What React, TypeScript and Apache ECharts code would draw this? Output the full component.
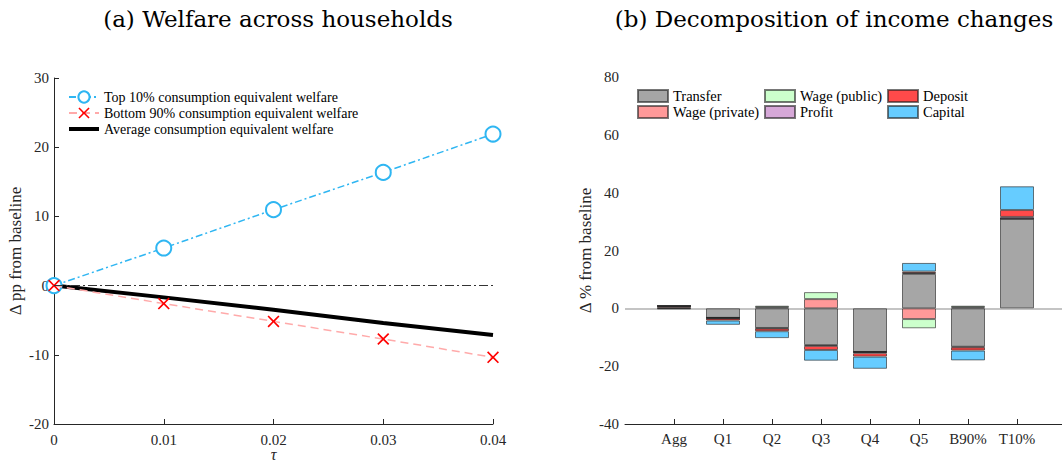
import React, { useEffect, useRef } from 'react';
import * as echarts from 'echarts';

// ---------- Panel (a) data ----------
const tau = [0, 0.01, 0.02, 0.03, 0.04];
const top10 = [0, 5.43, 10.97, 16.36, 21.9];
const bottom90 = [0, -2.6, -5.17, -7.72, -10.37];
const average = [0, -1.7, -3.48, -5.4, -7.14];
const welfareTicks = { xMin: 0, xMax: 0.04, xStep: 0.01, yMin: -20, yMax: 30, yStep: 10 };

// ---------- Panel (b) data ----------
const categories = ['Agg', 'Q1', 'Q2', 'Q3', 'Q4', 'Q5', 'B90%', 'T10%'];
const transfer = [0.2, -3.3, -6.8, -12.7, -15.1, 11.9, -13.3, 31.0];
const wagePrivate = [0.5, 0, 0.4, 3.2, 0, -3.7, 0.4, 0];
const wagePublic = [0.1, 0, 0.5, 2.4, 0, -3.2, 0.5, 0];
const profit = [0.05, -0.2, -0.2, -0.3, -0.4, 0.3, -0.2, 0.6];
const deposit = [0.05, -0.7, -0.9, -1.4, -1.2, 0.5, -1.1, 2.4];
const capital = [-0.25, -1.5, -2.4, -3.7, -4.2, 3.0, -3.4, 8.2];
const incomeTicks = { yMin: -40, yMax: 80, yStep: 20 };

const FONT = '"Liberation Serif", "Times New Roman", serif';
const TITLE_FONT = '"DejaVu Serif", "Liberation Serif", serif';
const AX = '#262626';

export default function App() {
  const ref = useRef<HTMLDivElement>(null);

  useEffect(() => {
    document.body.style.margin = '0';
    const chart = echarts.init(ref.current!, null, { renderer: 'svg' });

    // category axis padded with an empty slot at each end (MATLAB-like x limits)
    const paddedCats = ['', ...categories, ''];
    const pad = (arr: number[]) => [null, ...arr, null];

    const barBorder = { borderColor: 'rgba(30,30,30,0.6)', borderWidth: 1 };
    const barSeries = (name: string, data: number[], color: string, extra: any = {}) => ({
      name,
      type: 'bar',
      xAxisIndex: 1,
      yAxisIndex: 1,
      stack: 'income',
      stackStrategy: 'samesign',
      barWidth: 34,
      z: 2,
      itemStyle: { color, ...barBorder },
      data: pad(data),
      ...extra,
    });

    const axisCommon = {
      axisLine: { onZero: false, lineStyle: { color: AX, width: 1 } },
      axisTick: { inside: true, length: 5, lineStyle: { color: AX } },
      splitLine: { show: false },
    };

    const option: any = {
      animation: false,
      backgroundColor: '#ffffff',
      textStyle: { fontFamily: FONT },
      title: [
        {
          text: '(a) Welfare across households',
          left: 273,
          top: 2,
          textAlign: 'center',
          textStyle: { fontFamily: TITLE_FONT, fontSize: 23, fontWeight: 'normal', color: '#000' },
        },
        {
          text: '(b) Decomposition of income changes',
          left: 829,
          top: 2,
          textAlign: 'center',
          textStyle: { fontFamily: TITLE_FONT, fontSize: 23, fontWeight: 'normal', color: '#000' },
        },
      ],
      grid: [
        { left: 54, top: 78, width: 439, height: 346, containLabel: false, outerBoundsMode: 'none' },
        { left: 625, top: 77, width: 441, height: 347, containLabel: false, outerBoundsMode: 'none' },
      ],
      legend: [
        {
          orient: 'vertical',
          left: 63,
          top: 85,
          itemWidth: 30,
          itemHeight: 14,
          itemGap: 2,
          textStyle: { fontFamily: FONT, fontSize: 14, color: '#000' },
          data: [
            'Top 10% consumption equivalent welfare',
            'Bottom 90% consumption equivalent welfare',
            { name: 'Average consumption equivalent welfare', icon: 'path://M0,0 L30,0 L30,4 L0,4 Z' },
          ],
        },
        ...[
          { left: 632, data: ['Transfer', 'Wage (private)'] },
          { left: 759, data: ['Wage (public)', 'Profit'] },
          { left: 882, data: ['Deposit', 'Capital'] },
        ].map((c) => ({
          orient: 'vertical',
          left: c.left,
          top: 83,
          itemWidth: 30,
          itemHeight: 12,
          itemGap: 0,
          icon: 'rect',
          textStyle: { fontFamily: FONT, fontSize: 14.5, color: '#000', lineHeight: 16 },
          data: c.data,
        })),
      ],
      xAxis: [
        {
          type: 'value',
          gridIndex: 0,
          min: welfareTicks.xMin,
          max: welfareTicks.xMax,
          interval: welfareTicks.xStep,
          ...axisCommon,
          axisLabel: { fontFamily: FONT, fontSize: 15, color: AX, margin: 8 },
          name: 'τ',
          nameLocation: 'middle',
          nameGap: 23,
          nameMoveOverlap: false,
          nameTextStyle: { fontFamily: FONT, fontSize: 16, fontStyle: 'italic', color: AX, lineHeight: 15 },
        },
        {
          type: 'category',
          gridIndex: 1,
          data: paddedCats,
          boundaryGap: false,
          ...axisCommon,
          axisTick: {
            inside: true,
            length: 5,
            lineStyle: { color: AX },
            interval: (_i: number, v: string) => v !== '',
          },
          axisLabel: {
            fontFamily: FONT,
            fontSize: 15,
            color: AX,
            margin: 7,
            interval: 0,
          },
        },
      ],
      yAxis: [
        {
          type: 'value',
          gridIndex: 0,
          min: welfareTicks.yMin,
          max: welfareTicks.yMax,
          interval: welfareTicks.yStep,
          ...axisCommon,
          axisLabel: { fontFamily: FONT, fontSize: 15, color: AX, margin: 5 },
          name: 'Δ pp from baseline',
          nameLocation: 'middle',
          nameGap: 30,
          nameTextStyle: { fontFamily: FONT, fontSize: 17, color: AX },
        },
        {
          type: 'value',
          gridIndex: 1,
          min: incomeTicks.yMin,
          max: incomeTicks.yMax,
          interval: incomeTicks.yStep,
          ...axisCommon,
          axisLabel: { fontFamily: FONT, fontSize: 15, color: AX, margin: 6 },
          name: 'Δ % from baseline',
          nameLocation: 'middle',
          nameGap: 31,
          nameTextStyle: { fontFamily: FONT, fontSize: 17, color: AX },
        },
      ],
      series: [
        {
          name: 'Top 10% consumption equivalent welfare',
          type: 'line',
          xAxisIndex: 0,
          yAxisIndex: 0,
          data: tau.map((t, i) => [t, top10[i]]),
          symbol: 'emptyCircle',
          symbolSize: 15,
          lineStyle: { color: '#2fb6f2', width: 1.5, type: [7, 3, 2, 3] },
          itemStyle: { color: '#2fb6f2', borderColor: '#2fb6f2', borderWidth: 1.6 },
          z: 3,
          markLine: {
            silent: true,
            symbol: ['none', 'none'],
            label: { show: false },
            lineStyle: { color: '#333', width: 1, type: [9, 3, 2, 3] },
            data: [{ yAxis: 0 }],
          },
        },
        {
          name: 'Bottom 90% consumption equivalent welfare',
          type: 'line',
          xAxisIndex: 0,
          yAxisIndex: 0,
          data: tau.map((t, i) => [t, bottom90[i]]),
          symbol: 'path://M1,0 L5,4 L9,0 L10,1 L6,5 L10,9 L9,10 L5,6 L1,10 L0,9 L4,5 L0,1 Z',
          symbolSize: 12,
          lineStyle: { color: '#ffaaaa', width: 1.5, type: [8, 5] },
          itemStyle: { color: '#ff0000' },
          z: 4,
        },
        {
          name: 'Average consumption equivalent welfare',
          type: 'line',
          xAxisIndex: 0,
          yAxisIndex: 0,
          data: tau.map((t, i) => [t, average[i]]),
          symbol: 'none',
          lineStyle: { color: '#000', width: 4 },
          itemStyle: { color: '#000' },
          z: 3,
        },
        barSeries('Transfer', transfer, '#a6a6a6', {
          markLine: {
            silent: true,
            z: 1,
            symbol: ['none', 'none'],
            label: { show: false },
            lineStyle: { color: '#c4c4c4', width: 2, type: 'solid' },
            data: [{ yAxis: 0 }],
          },
        }),
        barSeries('Wage (private)', wagePrivate, '#ff9999'),
        barSeries('Wage (public)', wagePublic, '#ccffcc'),
        barSeries('Profit', profit, '#d6a8d8'),
        barSeries('Deposit', deposit, '#ff4a4a'),
        barSeries('Capital', capital, '#66ccff'),
      ],
    };

    chart.setOption(option);
    return () => chart.dispose();
  }, []);

  return <div ref={ref} style={{ width: 1062, height: 465 }} />;
}
